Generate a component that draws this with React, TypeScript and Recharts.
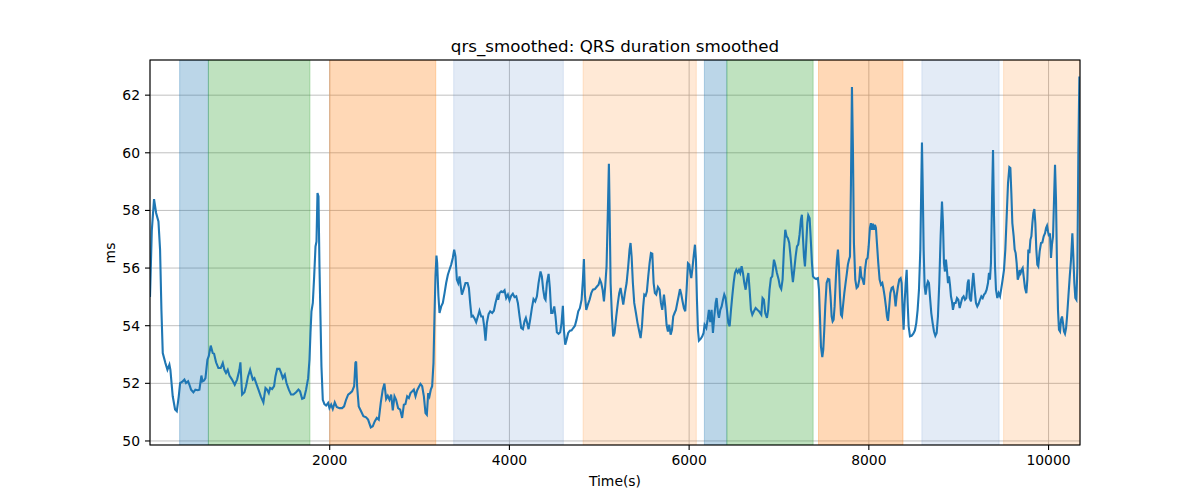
import React from "react";
import {
  LineChart,
  Line,
  XAxis,
  YAxis,
  CartesianGrid,
  ReferenceArea,
} from "recharts";

// time (s) and smoothed QRS duration (ms)
const timeS = [
  0, 20, 45, 68, 94, 112, 127, 142, 171, 194, 216, 227, 253, 279, 298, 320, 335, 364, 383, 401,
  424, 439, 457, 483, 505, 531, 550, 572, 584, 602, 617, 639, 654, 676, 698, 713, 735, 761, 787, 810,
  828, 846, 865, 884, 913, 943, 969, 995, 1006, 1025, 1051, 1069, 1091, 1114, 1129, 1144, 1162, 1181, 1207, 1233,
  1262, 1285, 1303, 1322, 1337, 1359, 1381, 1396, 1415, 1441, 1459, 1478, 1500, 1519, 1545, 1570, 1596, 1626, 1652, 1670,
  1693, 1715, 1737, 1760, 1775, 1786, 1797, 1812, 1827, 1842, 1853, 1864, 1875, 1886, 1897, 1908, 1923, 1941, 1960, 1982,
  1997, 2016, 2034, 2056, 2078, 2108, 2138, 2160, 2182, 2205, 2227, 2249, 2272, 2286, 2294, 2305, 2323, 2349, 2375, 2405,
  2427, 2457, 2479, 2501, 2524, 2546, 2568, 2590, 2609, 2628, 2646, 2665, 2684, 2702, 2721, 2739, 2761, 2784, 2806, 2825,
  2843, 2862, 2881, 2899, 2917, 2936, 2955, 2974, 2992, 3010, 3029, 3048, 3066, 3081, 3096, 3110, 3125, 3140, 3155, 3166,
  3177, 3188, 3196, 3210, 3222, 3241, 3259, 3278, 3296, 3315, 3333, 3352, 3370, 3385, 3400, 3415, 3430, 3445, 3456, 3471,
  3489, 3511, 3534, 3549, 3563, 3578, 3593, 3615, 3630, 3649, 3667, 3686, 3704, 3719, 3734, 3749, 3768, 3786, 3808, 3827,
  3845, 3864, 3875, 3890, 3909, 3927, 3946, 3964, 3983, 4001, 4020, 4038, 4057, 4076, 4094, 4113, 4131, 4150, 4168, 4183,
  4198, 4213, 4231, 4250, 4268, 4287, 4306, 4324, 4346, 4361, 4376, 4391, 4402, 4417, 4436, 4450, 4465, 4480, 4499, 4513,
  4528, 4547, 4565, 4580, 4595, 4606, 4621, 4636, 4654, 4673, 4692, 4710, 4729, 4747, 4766, 4784, 4803, 4818, 4829, 4840,
  4855, 4873, 4892, 4911, 4929, 4951, 4974, 4992, 5007, 5022, 5037, 5052, 5066, 5081, 5096, 5107, 5115, 5126, 5141, 5155,
  5170, 5189, 5207, 5222, 5237, 5252, 5267, 5285, 5304, 5322, 5337, 5348, 5360, 5374, 5389, 5408, 5426, 5445, 5460, 5475,
  5489, 5501, 5516, 5530, 5545, 5560, 5575, 5590, 5605, 5619, 5634, 5653, 5671, 5686, 5701, 5720, 5734, 5749, 5764, 5779,
  5794, 5809, 5823, 5838, 5853, 5868, 5883, 5898, 5913, 5927, 5942, 5957, 5972, 5987, 6002, 6013, 6024, 6035, 6050, 6065,
  6076, 6087, 6098, 6109, 6128, 6146, 6161, 6172, 6191, 6206, 6220, 6235, 6250, 6265, 6280, 6295, 6306, 6321, 6332, 6347,
  6362, 6377, 6391, 6406, 6421, 6436, 6451, 6466, 6480, 6495, 6510, 6525, 6540, 6555, 6569, 6584, 6599, 6614, 6629, 6644,
  6659, 6673, 6688, 6703, 6721, 6740, 6759, 6777, 6803, 6817, 6832, 6847, 6866, 6880, 6895, 6910, 6925, 6944, 6958, 6977,
  6996, 7010, 7025, 7040, 7055, 7070, 7085, 7099, 7114, 7129, 7144, 7155, 7170, 7185, 7200, 7214, 7229, 7244, 7255, 7266,
  7278, 7289, 7300, 7315, 7326, 7341, 7352, 7367, 7378, 7396, 7415, 7433, 7445, 7456, 7467, 7482, 7493, 7504, 7515, 7530,
  7545, 7560, 7574, 7586, 7597, 7608, 7619, 7634, 7645, 7656, 7667, 7679, 7690, 7701, 7712, 7727, 7741, 7756, 7767, 7779,
  7790, 7801, 7812, 7823, 7834, 7849, 7864, 7879, 7894, 7905, 7916, 7931, 7946, 7957, 7972, 7986, 7998, 8012, 8023, 8035,
  8046, 8057, 8068, 8079, 8090, 8105, 8120, 8135, 8150, 8161, 8176, 8190, 8202, 8213, 8224, 8239, 8254, 8268, 8283, 8298,
  8309, 8324, 8339, 8354, 8365, 8376, 8387, 8398, 8410, 8421, 8432, 8443, 8458, 8476, 8495, 8513, 8528, 8543, 8558, 8573,
  8584, 8591, 8599, 8610, 8621, 8632, 8647, 8658, 8669, 8680, 8695, 8710, 8725, 8740, 8755, 8769, 8784, 8799, 8814, 8825,
  8836, 8847, 8858, 8869, 8881, 8892, 8903, 8914, 8925, 8936, 8951, 8966, 8981, 8996, 9011, 9025, 9040, 9055, 9070, 9085,
  9100, 9111, 9122, 9137, 9152, 9163, 9178, 9192, 9207, 9222, 9237, 9252, 9267, 9282, 9296, 9311, 9326, 9337, 9348, 9359,
  9371, 9382, 9393, 9404, 9415, 9430, 9445, 9460, 9475, 9489, 9504, 9519, 9534, 9549, 9564, 9575, 9586, 9597, 9612, 9623,
  9634, 9645, 9657, 9668, 9679, 9690, 9701, 9712, 9723, 9738, 9753, 9764, 9775, 9787, 9798, 9809, 9820, 9831, 9842, 9853,
  9864, 9875, 9886, 9901, 9916, 9931, 9946, 9961, 9972, 9983, 9994, 10005, 10016, 10027, 10038, 10050, 10061, 10072, 10083, 10094,
  10105, 10116, 10128, 10139, 10150, 10161, 10172, 10183, 10195, 10206, 10221, 10236, 10250, 10265, 10276, 10287, 10298, 10310, 10321, 10332,
  10343,
];

const qrsMs = [
  55.0, 57.3, 58.39, 57.91, 57.62, 56.64, 54.55, 53.05, 52.71, 52.47, 52.65, 52.47, 51.55, 51.09, 51.03, 51.55, 52.01, 52.07, 52.13, 52.01,
  52.07, 51.95, 51.78, 51.69, 51.78, 51.76, 51.78, 52.27, 52.07, 52.1, 52.18, 52.82, 52.94, 53.31, 53.05, 53.03, 52.73, 52.53, 52.53, 52.71,
  52.47, 52.36, 52.47, 52.27, 52.13, 51.95, 52.13, 52.47, 52.73, 51.61, 51.69, 51.9, 52.24, 52.47, 52.3, 52.13, 52.18, 52.01, 51.78, 51.55,
  51.34, 51.84, 51.78, 51.66, 51.84, 51.8, 51.9, 52.24, 52.5, 52.5, 52.36, 52.18, 52.3, 52.01, 51.78, 51.61, 51.61, 51.69, 51.78, 51.72,
  51.46, 51.49, 51.78, 52.18, 52.82, 53.75, 54.5, 54.79, 55.71, 56.75, 56.92, 58.6, 58.49, 56.06, 54.32, 52.59, 51.43, 51.28, 51.23, 51.32,
  51.14, 51.26, 51.11, 51.34, 51.18, 51.14, 51.14, 51.2, 51.43, 51.61, 51.66, 51.72, 51.9, 52.71, 52.76, 51.9, 51.2, 51.03, 50.86, 50.82,
  50.74, 50.47, 50.51, 50.68, 50.8, 50.74, 51.32, 51.78, 51.99, 51.46, 51.57, 51.43, 51.61, 51.06, 51.55, 51.43, 51.14, 51.09, 50.8, 51.26,
  51.28, 51.55, 51.49, 51.66, 51.72, 51.78, 51.55, 51.76, 51.87, 51.98, 51.9, 51.55, 50.97, 50.91, 51.66, 51.55, 51.78, 51.9, 52.71, 54.32,
  55.71, 56.43, 56.17, 55.02, 54.44, 54.67, 54.79, 55.13, 55.48, 55.77, 55.94, 56.12, 56.35, 56.64, 56.4, 55.6, 55.48, 55.71, 55.42, 55.08,
  55.25, 55.48, 55.48, 55.31, 54.79, 54.32, 54.35, 54.23, 54.12, 54.32, 54.52, 54.32, 54.32, 53.98, 53.48, 54.09, 54.4, 54.5, 54.44, 54.52,
  54.79, 55.02, 54.9, 55.13, 55.19, 55.16, 55.23, 54.96, 55.08, 54.88, 55.04, 55.11, 54.99, 55.02, 54.79, 54.32, 53.92, 53.88, 54.15, 54.27,
  54.09, 53.88, 54.21, 54.61, 54.92, 54.84, 55.02, 55.48, 55.88, 55.71, 55.25, 54.96, 54.9, 55.48, 55.8, 55.31, 54.44, 54.44, 54.67, 54.32,
  53.77, 53.72, 53.77, 54.09, 54.69, 53.86, 53.34, 53.51, 53.75, 53.83, 53.84, 53.92, 54.0, 54.21, 54.5, 54.61, 54.9, 55.6, 56.31, 55.08,
  54.55, 54.73, 54.9, 55.13, 55.25, 55.27, 55.36, 55.42, 55.6, 55.48, 55.25, 54.84, 55.36, 56.06, 58.02, 59.62, 58.02, 55.48, 54.32, 53.63,
  53.75, 54.32, 54.79, 55.13, 55.31, 55.02, 54.73, 55.13, 55.48, 56.06, 56.64, 56.87, 56.4, 55.48, 54.79, 54.44, 54.09, 53.8, 53.57, 53.98,
  54.67, 55.08, 55.04, 55.19, 55.71, 56.17, 56.52, 56.5, 55.48, 55.13, 55.08, 55.34, 55.25, 54.79, 54.55, 55.08, 54.67, 54.03, 53.8, 54.03,
  53.69, 53.86, 54.32, 54.44, 54.55, 54.79, 55.02, 55.27, 55.08, 54.84, 54.61, 54.5, 55.25, 56.17, 56.12, 55.83, 55.65, 55.94, 56.4, 56.81,
  56.29, 54.9, 53.86, 53.48, 53.54, 53.63, 53.75, 54.03, 53.92, 54.21, 54.55, 54.12, 54.55, 53.75, 54.32, 54.79, 54.96, 54.44, 54.27, 54.55,
  54.67, 54.9, 55.08, 54.96, 54.55, 54.09, 53.98, 54.55, 55.02, 55.48, 55.83, 55.94, 55.85, 55.94, 55.83, 56.06, 55.83, 55.48, 55.25, 55.6,
  55.83, 55.25, 54.55, 54.38, 54.5, 54.61, 54.55, 54.5, 54.38, 54.96, 54.9, 54.44, 54.27, 54.55, 55.25, 55.65, 55.71, 56.29, 56.12, 55.83,
  55.6, 55.36, 55.27, 55.6, 56.64, 57.33, 57.1, 57.04, 56.87, 56.4, 55.83, 55.51, 55.94, 56.4, 56.75, 56.81, 57.16, 57.68, 57.85, 57.1,
  56.4, 56.06, 56.64, 57.56, 57.83, 57.73, 57.1, 56.17, 55.71, 55.65, 55.62, 55.65, 55.25, 54.32, 53.28, 52.91, 53.17, 53.86, 54.67, 55.48,
  55.62, 55.6, 55.02, 54.32, 54.15, 54.21, 54.67, 55.71, 56.29, 56.64, 56.06, 55.02, 54.38, 54.32, 54.67, 55.13, 55.48, 55.83, 56.12, 56.29,
  56.4, 58.95, 62.28, 60.1, 56.87, 55.6, 55.31, 55.36, 55.6, 56.06, 55.71, 55.6, 55.42, 55.94, 56.29, 56.35, 56.75, 57.39, 57.56, 57.33,
  57.54, 57.33, 57.5, 57.39, 56.87, 56.17, 55.6, 55.42, 55.48, 55.31, 55.02, 54.67, 54.32, 54.17, 54.55, 55.13, 55.31, 55.34, 55.13, 54.67,
  55.02, 55.36, 55.6, 55.65, 55.48, 54.55, 53.86, 54.79, 55.48, 55.94, 54.79, 53.98, 53.63, 53.65, 53.72, 53.84, 54.09, 54.55, 55.25, 56.64,
  58.95, 60.36, 58.95, 56.64, 55.36, 55.08, 55.42, 55.54, 55.48, 55.02, 54.44, 54.09, 53.8, 53.65, 53.75, 54.32, 55.48, 57.1, 58.31, 57.56,
  56.17, 55.88, 56.29, 55.94, 55.48, 55.71, 55.42, 55.02, 54.84, 54.55, 54.79, 54.79, 54.96, 54.9, 54.61, 54.79, 54.96, 55.02, 54.9, 54.96,
  55.48, 55.6, 54.96, 54.84, 55.48, 55.83, 55.25, 54.79, 54.67, 54.76, 54.9, 55.02, 54.96, 55.08, 55.13, 55.25, 55.48, 55.83, 55.6, 56.17,
  58.37, 60.1, 57.79, 56.06, 55.25, 54.96, 55.13, 55.02, 55.31, 55.6, 55.94, 56.64, 57.79, 58.95, 59.5, 59.47, 58.6, 57.56, 57.1, 56.64,
  56.52, 56.17, 55.6, 55.71, 55.94, 55.83, 55.94, 56.0, 55.71, 55.31, 55.13, 55.6, 56.64, 56.52, 56.98, 57.1, 57.56, 57.91, 58.05, 57.56,
  56.64, 56.12, 56.06, 56.58, 56.87, 56.89, 57.1, 57.21, 57.39, 57.47, 57.27, 57.1, 57.21, 56.35, 56.81, 57.1, 58.37, 59.58, 58.37, 56.06,
  54.55, 53.86, 53.8, 54.21, 54.32, 54.09, 53.8, 53.72, 53.92, 54.32, 55.02, 55.71, 56.29, 57.21, 56.4, 55.48, 54.96, 54.9, 56.06, 60.1,
  62.65,
];

// shaded protocol phases
const phaseStart = [330, 650, 2000, 3380, 4820, 6170, 6420, 7440, 8590, 9500];
const phaseEnd = [650, 1780, 3180, 4600, 6080, 6420, 7380, 8380, 9450, 10350];
const phaseKind = ["blue", "green", "orange", "paleBlue", "paleOrange", "blue", "green", "orange", "paleBlue", "paleOrange"];

const xTicks = [2000, 4000, 6000, 8000, 10000];
const yTicks = [50, 52, 54, 56, 58, 60, 62];

const phaseStyle: Record<string, { fill: string; opacity: number }> = {
  blue: { fill: "#1f77b4", opacity: 0.3 },
  green: { fill: "#2ca02c", opacity: 0.3 },
  orange: { fill: "#ff7f0e", opacity: 0.3 },
  paleBlue: { fill: "#447ac3", opacity: 0.15 },
  paleOrange: { fill: "#ff7f0e", opacity: 0.17 },
};

const data = timeS.map((t, i) => ({ t, qrs: qrsMs[i] }));

const FONT = "'DejaVu Sans', sans-serif";
const tickStyle = { fill: "#000", fontSize: 13.9, fontFamily: FONT };

export default function App() {
  return (
    <div style={{ position: "absolute", left: 0, top: 0, width: 1200, height: 500, background: "#fff" }}>
      <LineChart
        width={1200}
        height={500}
        data={data}
        margin={{ top: 60, right: 120, bottom: 25, left: 0 }}
      >
        {phaseStart.map((s, i) => {
          const st = phaseStyle[phaseKind[i]];
          return (
            <ReferenceArea
              key={i}
              x1={s}
              x2={phaseEnd[i]}
              ifOverflow="hidden"
              fill={st.fill}
              fillOpacity={st.opacity}
              stroke={st.fill}
              strokeOpacity={st.opacity}
              strokeWidth={1}
            />
          );
        })}
        <CartesianGrid stroke="#b0b0b0" strokeWidth={0.8} />
        <XAxis
          dataKey="t"
          type="number"
          domain={[0, 10350]}
          ticks={xTicks}
          allowDataOverflow
          height={30}
          axisLine={false}
          tickLine={{ stroke: "#000", strokeWidth: 1.1 }}
          tickSize={5}
          tickMargin={5}
          tick={tickStyle}
        />
        <YAxis
          type="number"
          domain={[49.86, 63.22]}
          ticks={yTicks}
          allowDataOverflow
          width={150}
          axisLine={false}
          tickLine={{ stroke: "#000", strokeWidth: 1.1 }}
          tickSize={5}
          tickMargin={5}
          tick={tickStyle}
        />
        <Line
          type="linear"
          dataKey="qrs"
          stroke="#1f77b4"
          strokeWidth={2.1}
          dot={false}
          activeDot={false}
          isAnimationActive={false}
        />
      </LineChart>
      <svg
        width={1200}
        height={500}
        style={{ position: "absolute", left: 0, top: 0, pointerEvents: "none" }}
      >
        <rect x={150} y={60} width={930} height={385} fill="none" stroke="#000" strokeWidth={1.1} />
        <text x={615} y={52} textAnchor="middle" fontFamily={FONT} fontSize={16.7} fill="#000">
          qrs_smoothed: QRS duration smoothed
        </text>
        <text x={615} y={486} textAnchor="middle" fontFamily={FONT} fontSize={13.9} fill="#000">
          Time(s)
        </text>
        <text
          x={0}
          y={0}
          transform="translate(115,253) rotate(-90)"
          textAnchor="middle"
          fontFamily={FONT}
          fontSize={13.9}
          fill="#000"
        >
          ms
        </text>
      </svg>
    </div>
  );
}
